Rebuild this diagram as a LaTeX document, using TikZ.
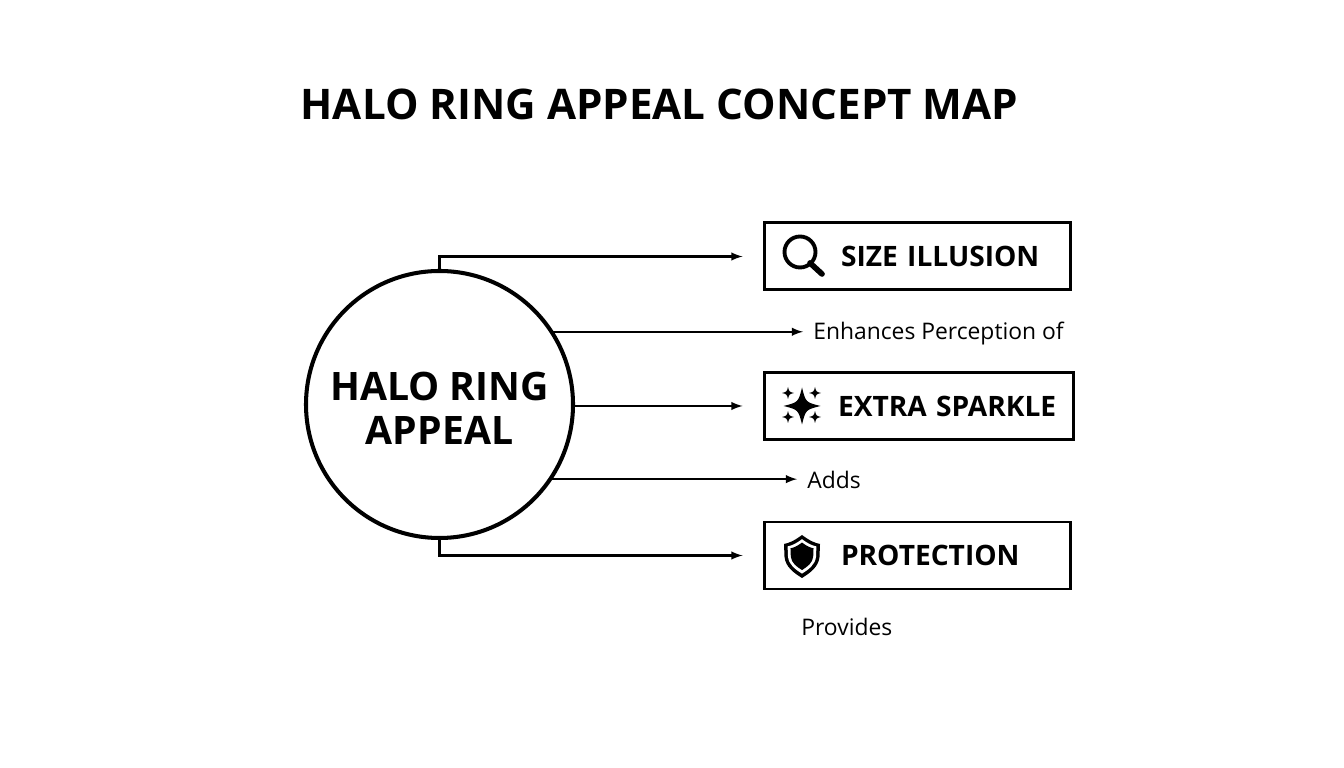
\documentclass[tikz,border=0pt]{standalone}
\usepackage{fontspec}
\setmainfont{Open Sans}
\usetikzlibrary{calc}
\tikzset{>=latex}
\tikzset{
    hubnode/.style={circle, draw=black, line width=2.3pt, inner sep=0pt, outer sep=0pt, minimum size=5.34cm, align=center, text height=46pt, font=\bfseries\fontsize{22.3}{25.5}\selectfont},
    boxnode/.style={rectangle, draw=black, line width=1.7pt, inner xsep=0pt, inner ysep=0pt, minimum height=1.34cm, align=left, font=\bfseries\fontsize{16}{20}\selectfont},
    labelnode/.style={anchor=west, inner xsep=0.2cm, inner ysep=0pt, font=\fontsize{13}{16}\selectfont},
    link/.style={-latex, line width=1.2pt},
    boxlink/.style={link, shorten >=0.4cm}
}
\newcommand{\sparklestar}[3]{\fill (#1,#2+#3) .. controls (#1+0.2*#3,#2+0.2*#3) .. (#1+#3,#2) .. controls (#1+0.2*#3,#2-0.2*#3) .. (#1,#2-#3) .. controls (#1-0.2*#3,#2-0.2*#3) .. (#1-#3,#2) .. controls (#1-0.2*#3,#2+0.2*#3) .. cycle;}
\newcommand{\shieldshape}{(0,0.42) .. controls (0.16,0.30) and (0.26,0.26) .. (0.36,0.24) -- (0.35,-0.02) .. controls (0.33,-0.22) and (0.16,-0.34) .. (0,-0.44) .. controls (-0.16,-0.34) and (-0.33,-0.22) .. (-0.35,-0.02) -- (-0.36,0.24) .. controls (-0.26,0.26) and (-0.16,0.30) .. cycle}
\begin{document}
\begin{tikzpicture}
    \useasboundingbox (0,0) rectangle (26.88,15.36);
    % Coordinates
    \coordinate (T) at (13.19,13.28);
    \coordinate (H) at (8.79,7.27);
    \coordinate (S) at (18.34,10.23);
    \coordinate (X) at (18.37,7.24);
    \coordinate (P) at (18.34,4.25);

    % Title
    \node[font=\bfseries\fontsize{24}{30}\selectfont] (title) at (T) {HALO RING APPEAL CONCEPT MAP};

    % Circle
    \node[hubnode] (hub) at (H) {HALO RING\\APPEAL};

    % Boxes
    \node[boxnode, text width=6.12cm] (size) at (S) {\hspace*{1.54cm}SIZE ILLUSION};
    \node[boxnode, text width=6.18cm] (sparkle) at (X) {\hspace*{1.48cm}EXTRA SPARKLE};
    \node[boxnode, text width=6.12cm] (protection) at (P) {\hspace*{1.54cm}PROTECTION};

    % Text
    \node[labelnode] (enhances) at (16.06,8.68) {Enhances Perception of};
    \node[labelnode] (adds) at (15.94,5.76) {Adds};
    \node[labelnode, inner xsep=0pt] (provides) at (16.02,2.82) {Provides};

    % Lines
    \draw[boxlink] (hub.north) |- (size.west);
    \draw[link] (hub.33) -- (hub.33 -| enhances.west);
    \draw[boxlink] (hub.east |- sparkle.west) -- (sparkle.west);
    \draw[link] (hub.-34) -- (hub.-34 -| adds.west);
    \draw[boxlink] (hub.south) |- (protection.west);

    % Magnifier
    \draw[line width=2.2pt] (16.0,10.32) circle (0.31);
    \draw[line width=3.2pt, line cap=round] (16.2,10.1) -- (16.44,9.88);

    % Sparkles
    \sparklestar{16.04}{7.24}{0.37}
    \sparklestar{15.76}{7.5}{0.12}
    \sparklestar{16.3}{7.5}{0.12}
    \sparklestar{15.76}{7.02}{0.12}
    \sparklestar{16.3}{7.02}{0.12}

    % Shield
    \begin{scope}[shift={(16.04,4.24)}]
        \fill \shieldshape;
        \fill[white, scale=0.8] \shieldshape;
        \fill[scale=0.64] \shieldshape;
    \end{scope}
\end{tikzpicture}
\end{document}
